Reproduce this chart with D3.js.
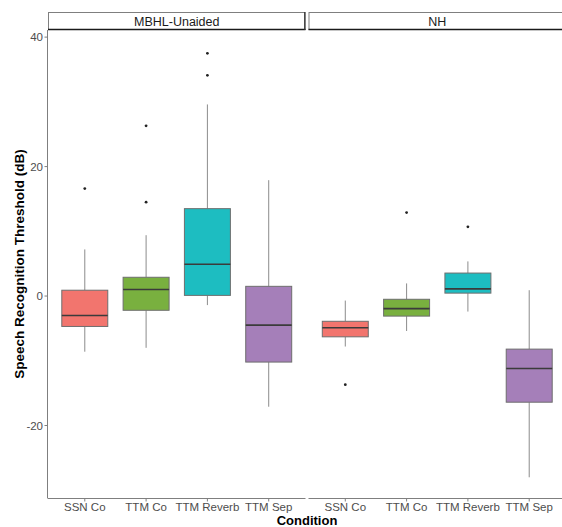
<!DOCTYPE html>
<html>
<head>
<meta charset="utf-8">
<script src="https://cdn.jsdelivr.net/npm/d3@7"></script>
<style>
  body { margin: 0; background: #fff; }
  svg { display: block; font-family: "Liberation Sans", Arial, sans-serif; }
</style>
</head>
<body>
<svg id="chart" width="562" height="527"></svg>
<script>
// ---- Data ----
const facets = ["MBHL-Unaided", "NH"];
const conditions = ["SSN Co", "TTM Co", "TTM Reverb", "TTM Sep"];
const colors = ["#F2756E", "#79B03F", "#1DBDC1", "#A57FB9"];
const yTicks = [-20, 0, 20, 40];

// box stats per facet: [lowerWhisker, q1, median, q3, upperWhisker]
const mbhlStats = [
  [-8.6, -4.7, -3.0, 0.9, 7.2],
  [-8.0, -2.2, 1.0, 2.9, 9.4],
  [-1.4, 0.1, 4.9, 13.5, 29.6],
  [-17.1, -10.2, -4.5, 1.5, 17.9]
];
const nhStats = [
  [-7.8, -6.3, -4.9, -3.9, -0.7],
  [-5.4, -3.1, -1.95, -0.5, 1.95],
  [-2.4, 0.45, 1.1, 3.55, 5.35],
  [-28.0, -16.4, -11.2, -8.2, 0.9]
];
const mbhlOutliers = [[16.6], [14.5, 26.3], [34.1, 37.5], []];
const nhOutliers = [[-13.7], [12.9], [10.7], []];

const stats = [mbhlStats, nhStats];
const outliers = [mbhlOutliers, nhOutliers];

// ---- Layout ----
const svg = d3.select("#chart");
const panelTop = 30, panelBottom = 498;
const stripTop = 12;
const panelW = 257.5;
const panelX = [48, 308.5];

const y = d3.scaleLinear().domain([-31.2, 41.1]).range([panelBottom, panelTop]);

facets.forEach((facet, fi) => {
  const x0 = panelX[fi];
  // discrete scale with 0.6 expansion on each side
  const x = d3.scalePoint().domain(conditions).range([x0, x0 + panelW]).padding(0.6);
  const step = x.step();
  const bw = step * 0.75;

  const g = svg.append("g");

  // strip
  g.append("rect").attr("x", x0 + 0.5).attr("y", stripTop + 0.5)
    .attr("width", panelW - 1).attr("height", panelTop - stripTop - 1)
    .attr("fill", "#fff").attr("stroke", "#7f7f7f").attr("stroke-width", 1);
  g.append("line").attr("x1", x0).attr("x2", x0 + panelW)
    .attr("y1", panelTop - 0.5).attr("y2", panelTop - 0.5)
    .attr("stroke", "#1a1a1a").attr("stroke-width", 1.3);
  g.append("line").attr("x1", x0 + panelW - 0.7).attr("x2", x0 + panelW - 0.7)
    .attr("y1", stripTop).attr("y2", panelTop)
    .attr("stroke", "#333").attr("stroke-width", 1.3);
  g.append("text").attr("x", x0 + panelW / 2).attr("y", (stripTop + panelTop) / 2 + 4.5)
    .attr("text-anchor", "middle").attr("font-size", 12.5).attr("fill", "#1a1a1a")
    .text(facet);

  // x axis line
  g.append("line").attr("x1", x0).attr("x2", x0 + panelW)
    .attr("y1", panelBottom + 0.5).attr("y2", panelBottom + 0.5)
    .attr("stroke", "#7f7f7f").attr("stroke-width", 1);
  conditions.forEach(c => {
    g.append("line").attr("x1", x(c)).attr("x2", x(c))
      .attr("y1", panelBottom).attr("y2", panelBottom + 3.5)
      .attr("stroke", "#7f7f7f").attr("stroke-width", 1);
    g.append("text").attr("x", x(c)).attr("y", panelBottom + 12.5)
      .attr("text-anchor", "middle").attr("font-size", 11.5).attr("fill", "#4d4d4d")
      .text(c);
  });

  // boxes
  conditions.forEach((c, ci) => {
    const [lw, q1, med, q3, uw] = stats[fi][ci];
    const xc = x(c);
    g.append("line").attr("x1", xc).attr("x2", xc).attr("y1", y(q3)).attr("y2", y(uw))
      .attr("stroke", "#8c8c8c").attr("stroke-width", 1);
    g.append("line").attr("x1", xc).attr("x2", xc).attr("y1", y(q1)).attr("y2", y(lw))
      .attr("stroke", "#8c8c8c").attr("stroke-width", 1);
    g.append("rect").attr("x", xc - bw / 2).attr("y", y(q3))
      .attr("width", bw).attr("height", y(q1) - y(q3))
      .attr("fill", colors[ci]).attr("stroke", "#6e6e6e").attr("stroke-width", 1);
    g.append("line").attr("x1", xc - bw / 2).attr("x2", xc + bw / 2)
      .attr("y1", y(med)).attr("y2", y(med))
      .attr("stroke", "#3b3b3b").attr("stroke-width", 1.6);
    outliers[fi][ci].forEach(v => {
      g.append("circle").attr("cx", xc).attr("cy", y(v)).attr("r", 1.4).attr("fill", "#222");
    });
  });
});

// y axis (left panel only)
const ya = svg.append("g");
ya.append("line").attr("x1", panelX[0] - 0.5).attr("x2", panelX[0] - 0.5)
  .attr("y1", panelTop).attr("y2", panelBottom + 0.5)
  .attr("stroke", "#7f7f7f").attr("stroke-width", 1);
yTicks.forEach(t => {
  ya.append("line").attr("x1", panelX[0] - 3.5).attr("x2", panelX[0])
    .attr("y1", y(t)).attr("y2", y(t)).attr("stroke", "#7f7f7f");
  ya.append("text").attr("x", panelX[0] - 5).attr("y", y(t) + 4)
    .attr("text-anchor", "end").attr("font-size", 11.5).attr("fill", "#4d4d4d")
    .text(t);
});

// axis titles
svg.append("text").attr("x", (panelX[0] + panelX[1] + panelW) / 2).attr("y", 525)
  .attr("text-anchor", "middle").attr("font-size", 13).attr("font-weight", "bold")
  .attr("fill", "#000").text("Condition");
svg.append("text").attr("transform", `translate(24,${(panelTop + panelBottom) / 2}) rotate(-90)`)
  .attr("text-anchor", "middle").attr("font-size", 13.5).attr("font-weight", "bold")
  .attr("fill", "#000").text("Speech Recognition Threshold (dB)");
</script>
</body>
</html>
